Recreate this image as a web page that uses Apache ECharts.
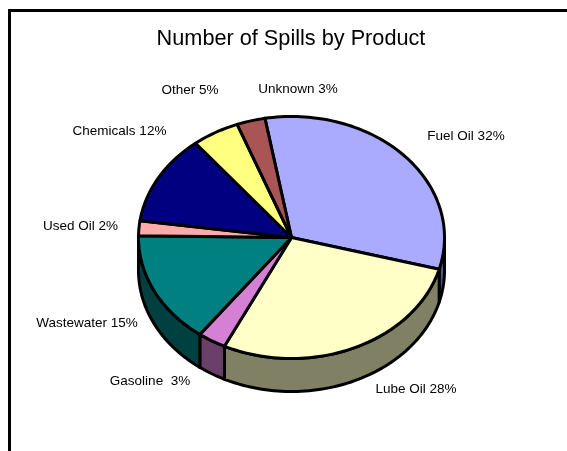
<!DOCTYPE html>
<html><head><meta charset="utf-8">
<style>html,body{margin:0;padding:0;background:#fff}#c{width:567px;height:451px}</style>
<script src="https://cdn.jsdelivr.net/npm/echarts@6/dist/echarts.min.js"></script>
</head><body><div id="c"></div>
<script>
const categories = ['Fuel Oil','Lube Oil','Gasoline ','Wastewater','Used Oil','Chemicals','Other','Unknown'];
const values = [32,28,3,15,2,12,5,3];
const topColors = ['#aaaaff','#ffffc8','#d580d5','#008080','#ffaaaa','#000080','#ffff80','#aa5555'];
const wallColors = ['#55557f','#808064','#6a406a','#004040','#7f5555','#000040','#7f7f40','#552a2a'];
// label anchor centres, page layout only
const labelX = [466,416,150,87,80.5,119.5,190,298];
const labelY = [136,389.5,381.5,323.5,226.5,131.5,90.5,89.5];

const CX=291.5, CY=237.5, RX=153, RY=121, DEPTH=33, START=-10;
const total = values.reduce((a,b)=>a+b,0);
function range(i){
  let s=0; for(let k=0;k<i;k++) s+=values[k];
  return [START+s/total*360, START+(s+values[i])/total*360];
}
function pt(deg,dy){
  const r=deg*Math.PI/180;
  return [CX+RX*Math.sin(r), CY-RY*Math.cos(r)+(dy||0)];
}
function arc(a,b,dy){
  const n=Math.max(2,Math.ceil((b-a)/1.5)), out=[];
  for(let k=0;k<=n;k++) out.push(pt(a+(b-a)*k/n,dy));
  return out;
}
const line={stroke:'#000',lineWidth:3,lineJoin:'round'};
const data=values.map((v,i)=>({name:categories[i],value:[v,i]}));
const chart=echarts.init(document.getElementById('c'),null,{renderer:'canvas'});
chart.setOption({
  animation:false,
  backgroundColor:'#ffffff',
  title:{text:'Number of Spills by Product',top:28.5,padding:0,left:291,textAlign:'center',
    textStyle:{fontFamily:'"Liberation Sans",Arial,sans-serif',fontSize:21.7,fontWeight:'normal',color:'#000'}},
  graphic:[{type:'polyline',silent:true,z:0,
    shape:{points:[[9.5,451],[9.5,10.5],[567,10.5]]},
    style:{stroke:'#000',lineWidth:3,fill:null}}],
  series:[
   {type:'custom',coordinateSystem:'none',z:2,silent:true,data,
    renderItem(p,api){
      const i=api.value(1),[a0,b0]=range(i);
      // side wall is only visible on the front half of the ellipse
      const a=Math.max(a0,90),b=Math.min(b0,270);
      if(b<=a) return {type:'group',children:[]};
      return {type:'polygon',shape:{points:arc(a,b,0).concat(arc(a,b,DEPTH).reverse())},
        style:{fill:wallColors[i],...line}};
    }},
   {type:'custom',coordinateSystem:'none',z:3,silent:true,data,
    renderItem(p,api){
      const i=api.value(1),[a,b]=range(i);
      return {type:'polygon',shape:{points:[[CX,CY]].concat(arc(a,b,0))},
        style:{fill:topColors[i],...line}};
    }},
   {type:'custom',coordinateSystem:'none',z:4,silent:true,data,
    renderItem(p,api){
      const i=api.value(1);
      return {type:'text',x:labelX[i],y:labelY[i],
        style:{text:categories[i]+' '+api.value(0)+'%',fill:'#000',align:'center',verticalAlign:'middle',
          font:'13.5px "Liberation Sans",Arial,sans-serif'}};
    }}
  ]
});
</script></body></html>
